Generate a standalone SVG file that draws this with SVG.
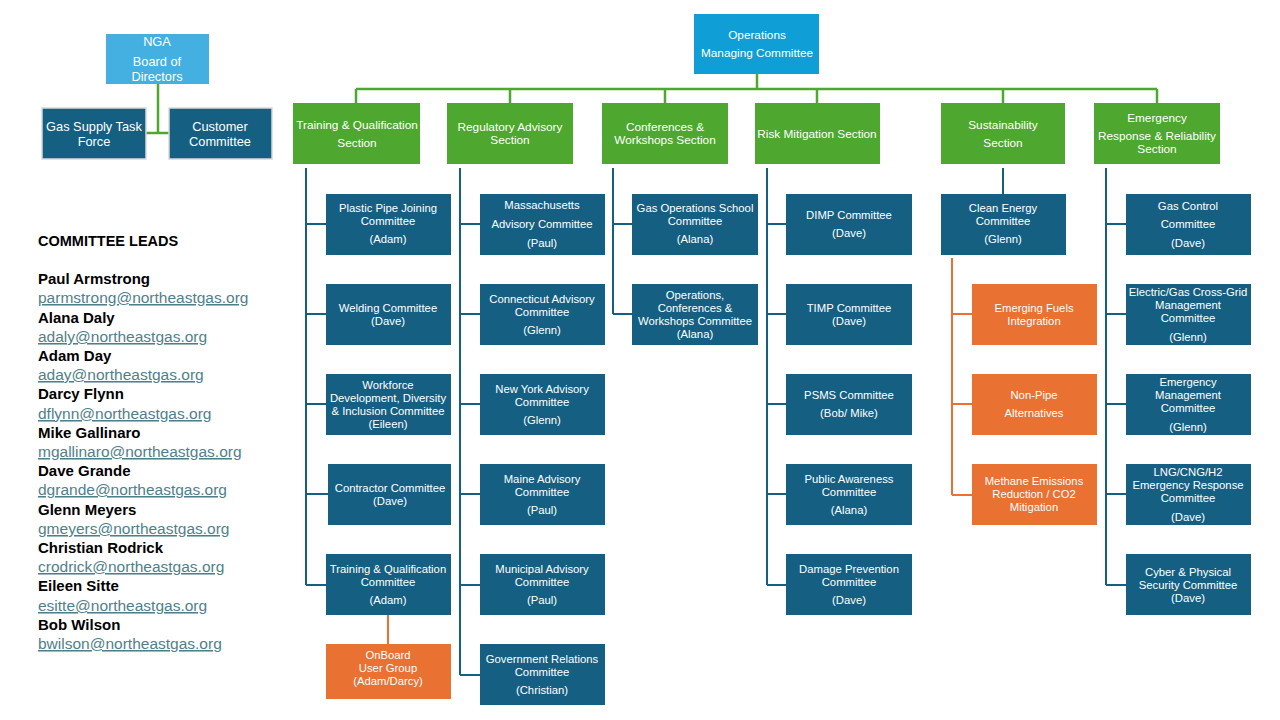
<svg xmlns="http://www.w3.org/2000/svg" width="1280" height="720" viewBox="0 0 1280 720">
<style>
.t{font-family:"Liberation Sans",Arial,sans-serif;font-size:11.3px;fill:#fff;text-anchor:middle;dominant-baseline:central}
.s{font-size:11.8px}
.l{font-size:12.8px}
.b{fill:#156082}.g{fill:#4EA72E}.o{fill:#E97132}
.gl{stroke:#4EA72E;stroke-width:2.5;fill:none}
.bl{stroke:#156082;stroke-width:2;fill:none}
.ol{stroke:#E97132;stroke-width:2;fill:none}
.nm{font-family:"Liberation Sans",Arial,sans-serif;font-size:15px;font-weight:bold;fill:#000}
.em{font-family:"Liberation Sans",Arial,sans-serif;font-size:15.5px;fill:#4F7F8C;text-decoration:underline}
</style>
<rect width="1280" height="720" fill="#fff"/>
<g id="connectors">
<path class="gl" d="M158 84V133M146 133H169"/>
<path class="gl" d="M757 74V89M356 89H1157M356 89V103M510 89V103M665 89V103M817 89V103M1003 89V103M1157 89V103"/>
<path class="bl" d="M306 168V585M306 224H326M306 314H326M306 404H326M306 494H328M306 585H326"/>
<path class="ol" d="M388 615V644"/>
<path class="bl" d="M460 168V675M460 224H480M460 314H480M460 404H480M460 494H480M460 585H480M460 675H480"/>
<path class="bl" d="M613 168V314M613 224H632M613 314H632"/>
<path class="bl" d="M767 168V585M767 224H786M767 314H786M767 404H786M767 494H786M767 585H786"/>
<path class="bl" d="M1003 168V194"/>
<path class="ol" d="M952 258V495M952 314H972M952 404H972M952 495H972"/>
<path class="bl" d="M1106 168V585M1106 224H1126M1106 314H1126M1106 404H1126M1106 494H1126M1106 585H1126"/>
</g>
<g id="nga"><rect x="106" y="34" width="103" height="50" fill="#44B0E1"/><text class="t l" x="157" y="41">NGA</text><text class="t l" x="157" y="61">Board of</text><text class="t l" x="157" y="76">Directors</text></g>
<g id="gas-supply"><rect x="42" y="108" width="104" height="51" class="b" stroke="#d9d9d9" stroke-width="1.5"/><text class="t l" x="94" y="126">Gas Supply Task</text><text class="t l" x="94" y="141">Force</text></g>
<g id="customer"><rect x="169" y="108" width="103" height="51" class="b" stroke="#d9d9d9" stroke-width="1.5"/><text class="t l" x="220" y="126">Customer</text><text class="t l" x="220" y="141">Committee</text></g>
<g id="operations"><rect x="694" y="14" width="125" height="60" fill="#0F9ED5"/><text class="t s" x="757" y="35">Operations</text><text class="t s" x="757" y="53">Managing Committee</text></g>
<g id="sec-training"><rect x="293" y="103" width="127" height="61" class="g"/><text class="t s" x="357" y="125">Training &amp; Qualification</text><text class="t s" x="357" y="143">Section</text></g>
<g id="sec-regulatory"><rect x="447" y="103" width="126" height="61" class="g"/><text class="t s" x="510" y="127">Regulatory Advisory</text><text class="t s" x="510" y="140">Section</text></g>
<g id="sec-conferences"><rect x="602" y="103" width="126" height="61" class="g"/><text class="t s" x="665" y="127">Conferences &amp;</text><text class="t s" x="665" y="140">Workshops Section</text></g>
<g id="sec-risk"><rect x="755" y="103" width="125" height="61" class="g"/><text class="t s" x="817" y="134">Risk Mitigation Section</text></g>
<g id="sec-sustain"><rect x="941" y="103" width="124" height="61" class="g"/><text class="t s" x="1003" y="125">Sustainability</text><text class="t s" x="1003" y="143">Section</text></g>
<g id="sec-emergency"><rect x="1094" y="103" width="126" height="61" class="g"/><text class="t s" x="1157" y="118">Emergency</text><text class="t s" x="1157" y="136">Response &amp; Reliability</text><text class="t s" x="1157" y="149">Section</text></g>

<g id="plastic"><rect x="326" y="194" width="125" height="61" class="b"/><text class="t" x="388" y="208">Plastic Pipe Joining</text><text class="t" x="388" y="221">Committee</text><text class="t" x="388" y="239">(Adam)</text></g>
<g id="welding"><rect x="326" y="284" width="125" height="61" class="b"/><text class="t" x="388" y="308">Welding Committee</text><text class="t" x="388" y="321">(Dave)</text></g>
<g id="workforce"><rect x="326" y="374" width="125" height="61" class="b"/><text class="t" x="388" y="385">Workforce</text><text class="t" x="388" y="398">Development, Diversity</text><text class="t" x="388" y="411">&amp; Inclusion Committee</text><text class="t" x="388" y="424">(Eileen)</text></g>
<g id="contractor"><rect x="328" y="464" width="123" height="61" class="b"/><text class="t" x="390" y="488">Contractor Committee</text><text class="t" x="390" y="501">(Dave)</text></g>
<g id="tq-committee"><rect x="326" y="554" width="125" height="61" class="b"/><text class="t" x="388" y="569">Training &amp; Qualification</text><text class="t" x="388" y="582">Committee</text><text class="t" x="388" y="600">(Adam)</text></g>
<g id="onboard"><rect x="326" y="644" width="125" height="55" class="o"/><text class="t" x="388" y="655">OnBoard</text><text class="t" x="388" y="668">User Group</text><text class="t" x="388" y="681">(Adam/Darcy)</text></g>

<g id="mass"><rect x="480" y="194" width="125" height="61" class="b"/><text class="t" x="542" y="205">Massachusetts</text><text class="t" x="542" y="224">Advisory Committee</text><text class="t" x="542" y="243">(Paul)</text></g>
<g id="conn"><rect x="480" y="284" width="125" height="61" class="b"/><text class="t" x="542" y="299">Connecticut Advisory</text><text class="t" x="542" y="312">Committee</text><text class="t" x="542" y="330">(Glenn)</text></g>
<g id="ny"><rect x="480" y="374" width="125" height="61" class="b"/><text class="t" x="542" y="389">New York Advisory</text><text class="t" x="542" y="402">Committee</text><text class="t" x="542" y="420">(Glenn)</text></g>
<g id="maine"><rect x="480" y="464" width="125" height="61" class="b"/><text class="t" x="542" y="479">Maine Advisory</text><text class="t" x="542" y="492">Committee</text><text class="t" x="542" y="510">(Paul)</text></g>
<g id="municipal"><rect x="480" y="554" width="125" height="61" class="b"/><text class="t" x="542" y="569">Municipal Advisory</text><text class="t" x="542" y="582">Committee</text><text class="t" x="542" y="600">(Paul)</text></g>
<g id="govrel"><rect x="480" y="644" width="125" height="61" class="b"/><text class="t" x="542" y="659">Government Relations</text><text class="t" x="542" y="672">Committee</text><text class="t" x="542" y="690">(Christian)</text></g>

<g id="gos"><rect x="632" y="194" width="126" height="61" class="b"/><text class="t" x="695" y="208">Gas Operations School</text><text class="t" x="695" y="221">Committee</text><text class="t" x="695" y="239">(Alana)</text></g>
<g id="ocw"><rect x="632" y="284" width="126" height="61" class="b"/><text class="t" x="695" y="295">Operations,</text><text class="t" x="695" y="308">Conferences &amp;</text><text class="t" x="695" y="321">Workshops Committee</text><text class="t" x="695" y="334">(Alana)</text></g>

<g id="dimp"><rect x="786" y="194" width="126" height="61" class="b"/><text class="t" x="849" y="215">DIMP Committee</text><text class="t" x="849" y="233">(Dave)</text></g>
<g id="timp"><rect x="786" y="284" width="126" height="61" class="b"/><text class="t" x="849" y="308">TIMP Committee</text><text class="t" x="849" y="321">(Dave)</text></g>
<g id="psms"><rect x="786" y="374" width="126" height="61" class="b"/><text class="t" x="849" y="395">PSMS Committee</text><text class="t" x="849" y="413">(Bob/ Mike)</text></g>
<g id="public"><rect x="786" y="464" width="126" height="61" class="b"/><text class="t" x="849" y="479">Public Awareness</text><text class="t" x="849" y="492">Committee</text><text class="t" x="849" y="510">(Alana)</text></g>
<g id="damage"><rect x="786" y="554" width="126" height="61" class="b"/><text class="t" x="849" y="569">Damage Prevention</text><text class="t" x="849" y="582">Committee</text><text class="t" x="849" y="600">(Dave)</text></g>

<g id="clean"><rect x="941" y="194" width="125" height="61" class="b"/><text class="t" x="1003" y="208">Clean Energy</text><text class="t" x="1003" y="221">Committee</text><text class="t" x="1003" y="239">(Glenn)</text></g>
<g id="emerging"><rect x="972" y="284" width="125" height="61" class="o"/><text class="t" x="1034" y="308">Emerging Fuels</text><text class="t" x="1034" y="321">Integration</text></g>
<g id="nonpipe"><rect x="972" y="374" width="125" height="61" class="o"/><text class="t" x="1034" y="395">Non-Pipe</text><text class="t" x="1034" y="413">Alternatives</text></g>
<g id="methane"><rect x="972" y="464" width="125" height="61" class="o"/><text class="t" x="1034" y="481">Methane Emissions</text><text class="t" x="1034" y="494">Reduction / CO2</text><text class="t" x="1034" y="507">Mitigation</text></g>

<g id="gascontrol"><rect x="1126" y="194" width="125" height="61" class="b"/><text class="t" x="1188" y="206">Gas Control</text><text class="t" x="1188" y="224">Committee</text><text class="t" x="1188" y="243">(Dave)</text></g>
<g id="crossgrid"><rect x="1126" y="284" width="125" height="61" class="b"/><text class="t" x="1188" y="292">Electric/Gas Cross-Grid</text><text class="t" x="1188" y="305">Management</text><text class="t" x="1188" y="318">Committee</text><text class="t" x="1188" y="337">(Glenn)</text></g>
<g id="emgmt"><rect x="1126" y="374" width="125" height="61" class="b"/><text class="t" x="1188" y="382">Emergency</text><text class="t" x="1188" y="395">Management</text><text class="t" x="1188" y="408">Committee</text><text class="t" x="1188" y="427">(Glenn)</text></g>
<g id="lng"><rect x="1126" y="464" width="125" height="61" class="b"/><text class="t" x="1188" y="472">LNG/CNG/H2</text><text class="t" x="1188" y="485">Emergency Response</text><text class="t" x="1188" y="498">Committee</text><text class="t" x="1188" y="517">(Dave)</text></g>
<g id="cyber"><rect x="1126" y="554" width="125" height="61" class="b"/><text class="t" x="1188" y="572">Cyber &amp; Physical</text><text class="t" x="1188" y="585">Security Committee</text><text class="t" x="1188" y="598">(Dave)</text></g>

<g id="leads">
<text class="nm" x="38" y="246" style="font-size:14.5px">COMMITTEE LEADS</text>
<text class="nm" x="38" y="284">Paul Armstrong</text><text class="em" x="38" y="303">parmstrong@northeastgas.org</text>
<text class="nm" x="38" y="323">Alana Daly</text><text class="em" x="38" y="342">adaly@northeastgas.org</text>
<text class="nm" x="38" y="361">Adam Day</text><text class="em" x="38" y="380">aday@northeastgas.org</text>
<text class="nm" x="38" y="399">Darcy Flynn</text><text class="em" x="38" y="419">dflynn@northeastgas.org</text>
<text class="nm" x="38" y="438">Mike Gallinaro</text><text class="em" x="38" y="457">mgallinaro@northeastgas.org</text>
<text class="nm" x="38" y="476">Dave Grande</text><text class="em" x="38" y="495">dgrande@northeastgas.org</text>
<text class="nm" x="38" y="515">Glenn Meyers</text><text class="em" x="38" y="534">gmeyers@northeastgas.org</text>
<text class="nm" x="38" y="553">Christian Rodrick</text><text class="em" x="38" y="572">crodrick@northeastgas.org</text>
<text class="nm" x="38" y="591">Eileen Sitte</text><text class="em" x="38" y="611">esitte@northeastgas.org</text>
<text class="nm" x="38" y="630">Bob Wilson</text><text class="em" x="38" y="649">bwilson@northeastgas.org</text>
</g>
</svg>
